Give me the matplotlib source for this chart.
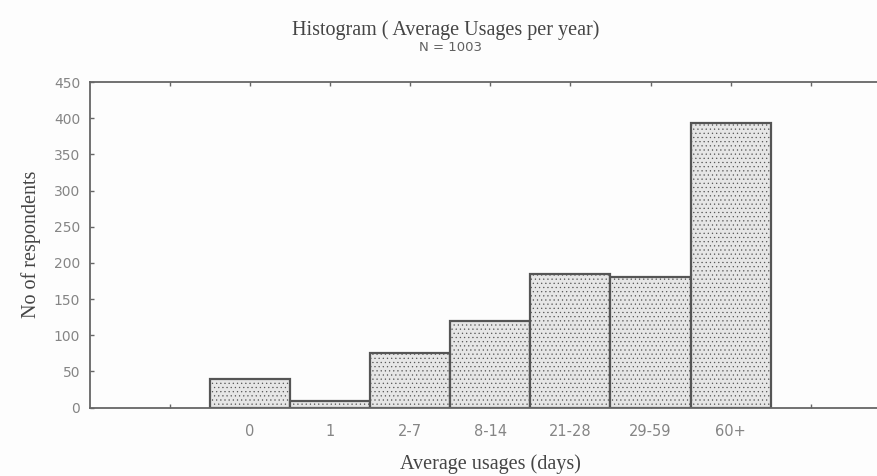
import matplotlib
matplotlib.use("Agg")
import matplotlib.pyplot as plt

# survey counts per usage bin
categories = ["0", "1", "2-7", "8-14", "21-28", "29-59", "60+"]
respondents = [40, 9, 76, 120, 184, 180, 394]
n_total = 1003
yticks = [0, 50, 100, 150, 200, 250, 300, 350, 400, 450]

plt.rcParams["hatch.color"] = "#c4c4c4"
plt.rcParams["hatch.linewidth"] = 0.4

fig = plt.figure(figsize=(8.78, 4.76), dpi=100)
fig.patch.set_facecolor("#fdfdfd")
ax = fig.add_axes([0.1025, 0.1439, 0.912, 0.6838])
ax.set_facecolor("#fdfdfd")

xs = list(range(len(categories)))
ax.bar(xs, respondents, width=1.0, color="#e6e6e6", edgecolor="#555555",
       linewidth=1.6, hatch="....", zorder=2)

ax.set_xlim(-2, 8)
ax.set_ylim(0, 450)
ax.set_yticks(yticks)
ax.set_xticks(range(-1, 8))
ax.set_xticklabels([""] + categories + [""])

for side in ["left", "bottom", "top"]:
    ax.spines[side].set_color("#666666")
    ax.spines[side].set_linewidth(1.3)
ax.spines["right"].set_visible(False)

ax.tick_params(direction="in", length=3, width=1, color="#666666",
               labelcolor="#858585", top=True)
ax.tick_params(axis="y", labelsize=10, pad=7)
ax.tick_params(axis="x", labelsize=10.5, pad=12)

serif = {"family": "Liberation Serif", "color": "#454545", "size": 14.5}
fig.text(0.508, 0.936, "Histogram ( Average Usages per year)", ha="center", va="center", fontdict=serif)
fig.text(0.513, 0.9, "N = %d" % n_total, ha="center", va="center",
         family="DejaVu Sans", color="#606060", size=9.5)
ax.set_xlabel("Average usages (days)", fontdict=serif, labelpad=11)
ax.set_ylabel("No of respondents", fontdict=serif, labelpad=9)

fig.savefig("out.png", dpi=100, facecolor=fig.get_facecolor())
